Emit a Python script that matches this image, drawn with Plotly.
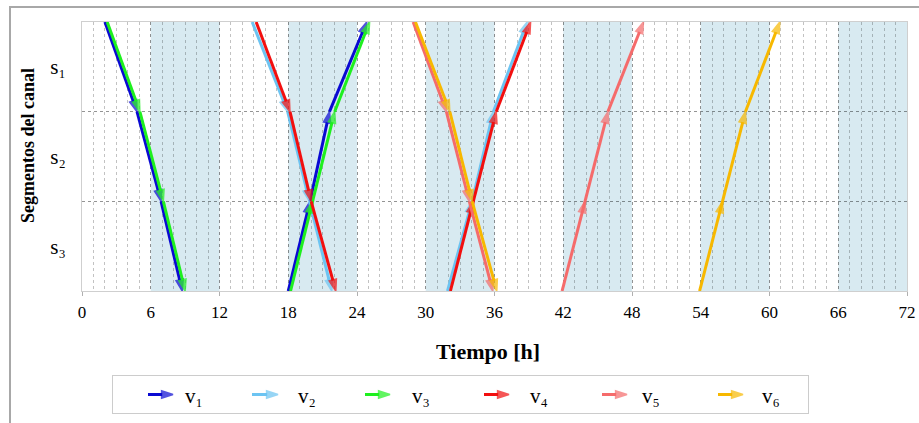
import plotly.graph_objects as go

# ---------------- data ----------------
x_tick_vals = [0, 6, 12, 18, 24, 30, 36, 42, 48, 54, 60, 66, 72]
x_tick_text = ["0", "6", "12", "18", "24", "30", "36", "42", "48", "54", "60", "66", "72"]
x_mark_vals = [0, 12, 24, 36, 48, 60, 72]

shade_start = [6, 18, 30, 42, 54, 66]
shade_end = [12, 24, 36, 48, 60, 72]

segment_labels = ["s\u2081", "s\u2082", "s\u2083"]
segment_centers = [0.5, 1.5, 2.5]
segment_bounds = [1, 2]

vehicle_names = ["v\u2081", "v\u2082", "v\u2083", "v\u2084", "v\u2085", "v\u2086"]

# position along the canal (0 = start of s1, 3 = end of s3)
pos_down = [0, 1, 2, 3]
pos_up = [3, 2, 1, 0]

# times (h) at which each segment boundary is reached
v1_down = [2.0, 4.8, 6.9, 8.75]
v1_up = [18.0, 19.9, 21.6, 24.85]
v2_down = [14.85, 17.95, 19.85, 21.8]
v2_up = [31.9, 34.05, 35.9, 38.85]
v3_down = [2.2, 5.05, 7.1, 9.0]
v3_up = [18.2, 20.1, 22.05, 25.1]
v4_down = [15.2, 18.15, 20.0, 22.15]
v4_up = [32.15, 34.15, 36.15, 39.15]
v5_down = [28.9, 31.8, 33.8, 35.85]
v5_up = [41.9, 43.9, 45.9, 49.0]
v6_down = [29.1, 32.1, 34.05, 36.2]
v6_up = [53.9, 55.9, 57.9, 60.9]

trips = [
    [(v1_down, pos_down), (v1_up, pos_up)],
    [(v2_down, pos_down), (v2_up, pos_up)],
    [(v3_down, pos_down), (v3_up, pos_up)],
    [(v4_down, pos_down), (v4_up, pos_up)],
    [(v5_down, pos_down), (v5_up, pos_up)],
    [(v6_down, pos_down), (v6_up, pos_up)],
]

# ---------------- styles / layout ----------------
colors = ["#0a0ad2", "#6cc4f2", "#1ef01e", "#f20f0f", "#f56b6b", "#f7b800"]
SERIF = "Liberation Serif, Times New Roman, serif"
W, H = 919, 423
HEAD = 12


def fx(px):
    return px / W


def fy(py):
    return (H - py) / H


PLOT_L, PLOT_R, PLOT_T, PLOT_B = 82, 907, 22, 291
LEG_L, LEG_R, LEG_T, LEG_B = 113, 808, 376, 413
legend_arrow_start = [148, 252, 365, 484, 602, 718]
legend_arrow_tip = [173, 278, 390, 509, 627, 743]
legend_text_x = [183, 296, 410, 528, 640, 760]
legend_y = 394.5

fig = go.Figure()

# night shading
for s, e in zip(shade_start, shade_end):
    fig.add_shape(type="rect", xref="x", yref="y", x0=s, x1=e, y0=0, y1=3,
                  fillcolor="#d8eaf1", line_width=0, layer="below")

for k, vtrips in enumerate(trips):
    for t, p in vtrips:
        fig.add_trace(go.Scatter(
            x=t, y=p, mode="lines+markers", name=vehicle_names[k],
            line=dict(color=colors[k], width=3),
            marker=dict(symbol="arrow", angleref="previous",
                        size=[0] + [HEAD] * (len(t) - 1),
                        color=colors[k],
                        line=dict(width=1.5, color=colors[k])),
            cliponaxis=False, showlegend=False, hoverinfo="skip"))

# dummy trace for tick-mark axis
fig.add_trace(go.Scatter(x=[None], y=[None], xaxis="x2", yaxis="y",
                         showlegend=False, hoverinfo="skip"))

# legend arrows (in a legend box subplot)
for k in range(6):
    fig.add_trace(go.Scatter(
        x=[legend_arrow_start[k], legend_arrow_tip[k]], y=[legend_y, legend_y],
        xaxis="x3", yaxis="y3", mode="lines+markers",
        line=dict(color=colors[k], width=3),
        marker=dict(symbol="arrow", angleref="previous", size=[0, HEAD],
                    color=colors[k], line=dict(width=1.5, color=colors[k])),
        cliponaxis=False, showlegend=False, hoverinfo="skip"))
    fig.add_annotation(xref="x3", yref="y3", x=legend_text_x[k], y=legend_y + 1,
                       text=vehicle_names[k], showarrow=False, xanchor="left",
                       yanchor="middle", font=dict(family=SERIF, size=21))

fig.update_layout(
    width=W, height=H, autosize=False,
    margin=dict(l=0, r=0, t=0, b=0, pad=0),
    paper_bgcolor="white", plot_bgcolor="white",
    font=dict(family=SERIF, color="black"),
    showlegend=False,
    xaxis=dict(domain=[fx(PLOT_L), fx(PLOT_R)], anchor="y",
               range=[0, 72], tickvals=x_tick_vals, ticktext=x_tick_text,
               showgrid=True, gridcolor="rgba(0,0,0,0.24)", griddash="dot",
               gridwidth=1, zeroline=False,
               minor=dict(dtick=1, showgrid=True, gridcolor="rgba(0,0,0,0.24)",
                          griddash="dot", gridwidth=1),
               showline=True, linecolor="#cfcfcf", linewidth=1, mirror=True,
               ticks="", tickfont=dict(size=17, family=SERIF),
               ticklabelstandoff=6, automargin=False),
    xaxis2=dict(domain=[fx(PLOT_L), fx(PLOT_R)], range=[0, 72], overlaying="x",
                anchor="y", side="bottom", tickvals=x_mark_vals,
                showticklabels=False, ticks="outside", ticklen=4,
                tickcolor="#b0b0b0", showgrid=False, showline=False,
                zeroline=False, automargin=False),
    yaxis=dict(domain=[fy(PLOT_B), fy(PLOT_T)], anchor="x",
               range=[3, 0], tickvals=segment_centers, ticktext=segment_labels,
               showgrid=False, zeroline=False,
               minor=dict(tickvals=segment_bounds, showgrid=True,
                          gridcolor="rgba(0,0,0,0.42)", griddash="dot",
                          gridwidth=1),
               showline=True, linecolor="#cfcfcf", linewidth=1, mirror=True,
               ticks="", tickfont=dict(size=21, family=SERIF),
               ticklabelstandoff=11, automargin=False),
    xaxis3=dict(domain=[fx(LEG_L), fx(LEG_R)], anchor="y3",
                range=[LEG_L, LEG_R], showgrid=False, zeroline=False,
                showticklabels=False, ticks="", showline=True, mirror=True,
                linecolor="#cccccc", linewidth=1, fixedrange=True,
                automargin=False),
    yaxis3=dict(domain=[fy(LEG_B), fy(LEG_T)], anchor="x3",
                range=[LEG_B, LEG_T], showgrid=False, zeroline=False,
                showticklabels=False, ticks="", showline=True, mirror=True,
                linecolor="#cccccc", linewidth=1, fixedrange=True,
                automargin=False),
)

# axis titles
fig.add_annotation(xref="paper", yref="paper", x=fx(488), y=fy(351),
                   text="Tiempo [h]", showarrow=False, xanchor="center",
                   yanchor="middle",
                   font=dict(family=SERIF, size=22, weight="bold"))
fig.add_annotation(xref="paper", yref="paper", x=fx(28), y=fy(146),
                   text="Segmentos del canal", showarrow=False, textangle=-90,
                   xanchor="center", yanchor="middle",
                   font=dict(family=SERIF, size=18, weight="bold"))

# outer frame
fig.add_shape(type="rect", xref="paper", yref="paper",
              x0=fx(10), x1=fx(960), y0=fy(480), y1=fy(7),
              line=dict(color="#a8a8a8", width=2), fillcolor="rgba(0,0,0,0)",
              layer="above")

fig.write_html("out.html", config={"displayModeBar": False},
               post_script="document.body.style.margin='0';"
                           "document.body.style.overflow='hidden';")
